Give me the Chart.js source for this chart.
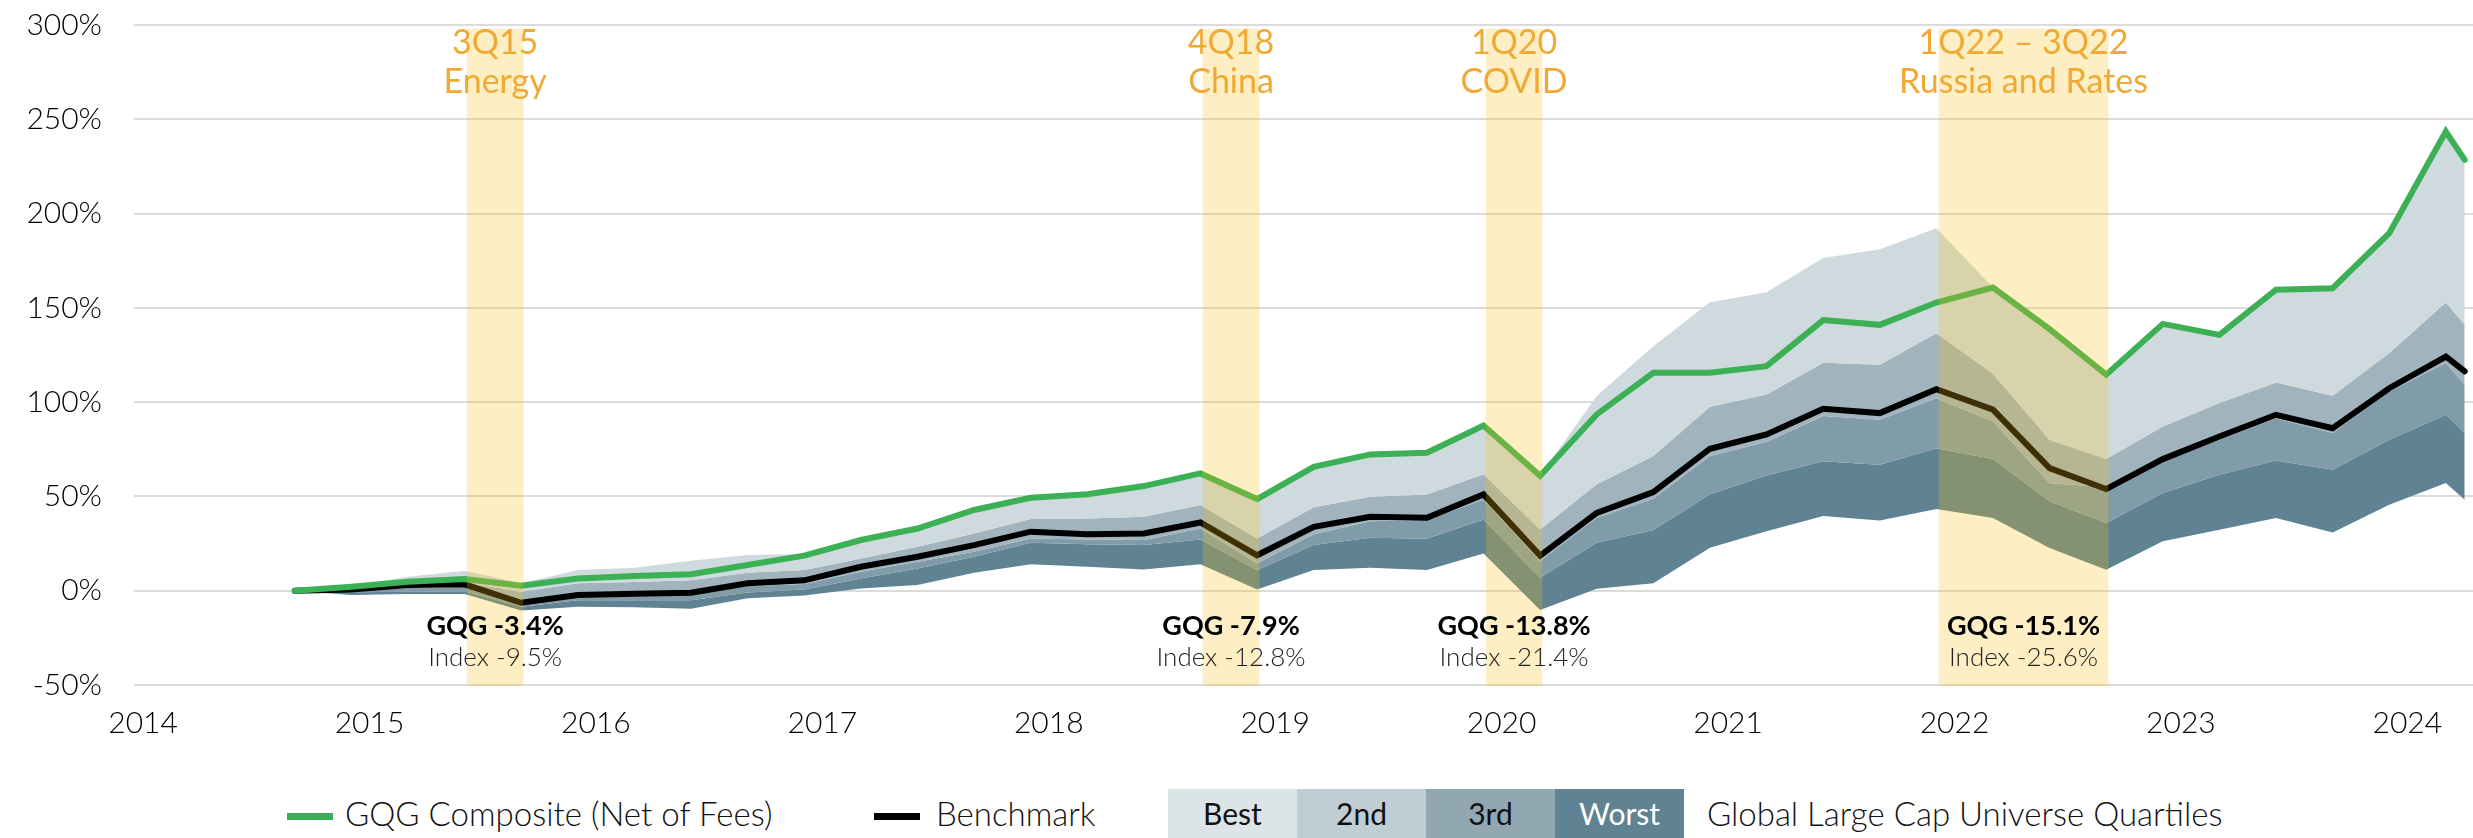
<!DOCTYPE html>
<html>
<head>
<meta charset="utf-8">
<script src="https://cdn.jsdelivr.net/npm/chart.js@4.4.1/dist/chart.umd.min.js"></script>
<style>
body { margin: 0; background: #fff; font-family: Lato, "Open Sans", sans-serif; }
#wrap { position: relative; width: 2473px; height: 838px; overflow: hidden; }
#chartBox { position: absolute; left: 0; top: 0; width: 2473px; height: 760px; }
.lg { position: absolute; top: 789px; height: 49px; line-height: 49px; font-size: 33px; font-weight: 300; color: #111; white-space: nowrap; }
.sw { position: absolute; top: 813px; width: 46px; height: 7px; }
.box { position: absolute; top: 789px; width: 129px; height: 49px; line-height: 49px; text-align: center; font-size: 30px; color: #111; }
</style>
</head>
<body>
<div id="wrap">
  <div id="chartBox"><canvas id="myChart"></canvas></div>

  <div class="sw" style="left:287px;background:#3bb054"></div>
  <div class="lg" style="left:345px">GQG Composite (Net of Fees)</div>
  <div class="sw" style="left:874px;background:#000"></div>
  <div class="lg" style="left:936px">Benchmark</div>
  <div class="box" style="left:1168px;background:#dce4e8">Best</div>
  <div class="box" style="left:1297px;background:#c0cdd4">2nd</div>
  <div class="box" style="left:1426px;background:#91a8b3">3rd</div>
  <div class="box" style="left:1555px;background:#5f8393;color:#fff">Worst</div>
  <div class="lg" style="left:1707px">Global Large Cap Universe Quartiles</div>
</div>

<script>
// month-end dates of each point
var dates = ['2014-09','2014-12','2015-03','2015-06','2015-09','2015-12','2016-03','2016-06','2016-09','2016-12',
             '2017-03','2017-06','2017-09','2017-12','2018-03','2018-06','2018-09','2018-12','2019-03',
             '2019-06','2019-09','2019-12','2020-03','2020-06','2020-09','2020-12','2021-03','2021-06',
             '2021-09','2021-12','2022-03','2022-06','2022-09','2022-12','2023-03','2023-06','2023-09','2023-12','2024-03','2024-04'];

var gqg = [0, 2.1, 4.8, 6.2, 2.6, 6.5, 7.8, 8.7, 13.6, 18.6,
           26.9, 33, 42.8, 49.3, 51.2, 55.5, 62.2, 48.6, 65.7,
           72.3, 73.2, 87.6, 61, 93.5, 115.6, 115.6, 119.1, 143.5,
           141, 152.8, 160.8, 138.7, 114.6, 141.5, 135.7, 159.6, 160.4, 189.6, 243.5, 228.5];

var benchmark = [0, 0.7, 3.0, 3.4, -6.4, -2.3, -1.6, -1.1, 3.9, 5.5,
                 12.7, 18, 24.2, 31.3, 29.9, 30.4, 36.2, 18.8, 33.9,
                 39.2, 38.7, 51.1, 18.6, 41.3, 52.3, 75.3, 82.9, 96.5,
                 94.2, 106.9, 96, 65, 53.9, 69.8, 81.8, 93.3, 86.2, 107.4, 124.2, 116.3];

// universe quartile boundaries (top, 25th, median, 75th, bottom)
var qTop = [0, 2.5, 7.4, 10.6, 3.9, 11, 12.2, 15.9, 18.9, 19.5,
            27, 33, 42.8, 49.3, 51.2, 55.5, 62.2, 48.6, 65.7,
            72.3, 73.2, 87.6, 61, 103.2, 129.7, 153, 158.3, 176.5,
            181.1, 192.2, 160.8, 138.7, 114.6, 141.5, 136.5, 159.6, 160.4, 189.6, 243.5, 228.5];
var q25 = [0, 1.2, 3, 4.5, -0.5, 4, 4.6, 5.5, 9.5, 11,
           17.1, 23.3, 30.4, 38, 38.3, 39.2, 45.4, 27.7, 44.2,
           49.8, 51, 61.7, 32.5, 56.4, 71.4, 97.5, 104, 120.9,
           119.8, 136.6, 115, 80, 69.8, 87.1, 99.5, 110.4, 103.4, 126, 152.8, 141];
var q50 = [0, 0.2, 1.5, 2, -7, -3, -2.5, -2, 2.5, 3.5,
           10, 15.4, 20.7, 27.7, 27.2, 26.9, 33, 14.5, 30,
           36.9, 37.5, 48.4, 15.7, 38.7, 48.8, 71.4, 78.8, 92.6,
           90.6, 102.1, 89.8, 57, 55, 68.6, 80, 91.5, 83.6, 105.7, 120.7, 109.2];
var q75 = [0, -0.8, -0.5, -0.3, -8.5, -5, -5, -5, -1, 0.7,
           6.5, 11.8, 18, 25.4, 24.7, 24.2, 27.2, 11, 24.2,
           28.1, 27.6, 37.8, 6.9, 25.4, 32.2, 51.1, 61.1, 68.7,
           66.8, 75.6, 69.8, 47.4, 35.9, 51.8, 61.5, 69.1, 64.1, 80, 93.3, 83.6];
var qBottom = [0, -2.3, -1.8, -1.8, -10.5, -8.5, -8.8, -9.5, -4, -2.5,
               1.2, 3, 9.5, 14, 12.7, 11.3, 14, 0.7, 11,
               12.2, 11, 19.8, -10.2, 1.1, 3.9, 22.8, 31.6, 39.6,
               37.3, 43.3, 38.5, 22.6, 11.1, 26.2, 32.3, 38.5, 30.9, 45.6, 57.1, 48.2];

var yearLabels = ['2014','2015','2016','2017','2018','2019','2020','2021','2022','2023','2024'];

// drawdown periods
var bandFrom = ['2015-06', '2018-09', '2019-12', '2021-12'];
var bandTo = ['2015-09', '2018-12', '2020-03', '2022-09'];
var bandTitle = ['3Q15', '4Q18', '1Q20', '1Q22 \u2013 3Q22'];
var bandName = ['Energy', 'China', 'COVID', 'Russia and Rates'];
var bandGqg = ['GQG -3.4%', 'GQG -7.9%', 'GQG -13.8%', 'GQG -15.1%'];
var bandIndex = ['Index -9.5%', 'Index -12.8%', 'Index -21.4%', 'Index -25.6%'];

function toYear(d){
    var p = d.split('-');
    return Number(p[0]) + Number(p[1]) / 12;
}
function pts(arr){
    return arr.map(function(v, i){ return {x: toYear(dates[i]), y: v}; });
}

var bands = {
    id: 'bands',
    afterDatasetsDraw: function(chart){
        var ctx = chart.ctx, x = chart.scales.x, y = chart.scales.y;
        ctx.save();
        ctx.fillStyle = 'rgba(247,191,15,0.25)';
        for (var i = 0; i < bandFrom.length; i++) {
            var x0 = x.getPixelForValue(toYear(bandFrom[i]) + 0.01);
            var x1 = x.getPixelForValue(toYear(bandTo[i]) + 0.01);
            var y0 = y.getPixelForValue(298), y1 = y.getPixelForValue(-50.5);
            ctx.fillRect(x0, y0, x1 - x0, y1 - y0);
        }
        ctx.restore();
    },
    afterDraw: function(chart){
        var ctx = chart.ctx, x = chart.scales.x, y = chart.scales.y;
        ctx.save();
        ctx.textAlign = 'center';
        ctx.textBaseline = 'middle';
        for (var i = 0; i < bandFrom.length; i++) {
            var cx = x.getPixelForValue((toYear(bandFrom[i]) + toYear(bandTo[i])) / 2 + 0.01);
            ctx.fillStyle = '#f0a933';
            ctx.font = '400 34px Lato, sans-serif';
            ctx.fillText(bandTitle[i], cx, y.getPixelForValue(290.5));
            ctx.fillText(bandName[i], cx, y.getPixelForValue(269.5));
            ctx.fillStyle = '#000';
            ctx.font = '700 27px Lato, sans-serif';
            ctx.fillText(bandGqg[i], cx, y.getPixelForValue(-19));
            ctx.fillStyle = '#222';
            ctx.font = '300 26px Lato, sans-serif';
            ctx.fillText(bandIndex[i], cx, y.getPixelForValue(-35.5));
        }
        ctx.restore();
    }
};

function area(data, color){
    return { data: pts(data), backgroundColor: color, borderWidth: 0, pointRadius: 0, fill: '+1' };
}

new Chart('myChart', {
    type: 'line',
    data: {
        datasets: [
            { label: 'GQG Composite (Net of Fees)', data: pts(gqg), borderColor: '#3bb054', borderWidth: 6,
              pointRadius: 0, fill: false, borderCapStyle: 'round', borderJoinStyle: 'miter' },
            { label: 'Benchmark', data: pts(benchmark), borderColor: '#000', borderWidth: 6,
              pointRadius: 0, fill: false, borderCapStyle: 'round', borderJoinStyle: 'miter' },
            area(qTop, '#cfdadf'),
            area(q25, '#a1b4be'),
            area(q50, '#7f9ca8'),
            area(q75, '#5f8393'),
            { data: pts(qBottom), borderWidth: 0, pointRadius: 0, fill: false }
        ]
    },
    options: {
        responsive: true,
        maintainAspectRatio: false,
        animation: false,
        layout: { padding: { top: 25, left: 0, right: 0, bottom: 0 } },
        plugins: { legend: { display: false }, tooltip: { enabled: false } },
        scales: {
            x: {
                type: 'linear', min: 2014.04, max: 2024.37,
                grid: { display: false, drawTicks: false },
                border: { display: false },
                afterBuildTicks: function(scale){
                    scale.ticks = yearLabels.map(function(l){ return {value: Number(l) + 0.08}; });
                },
                afterFit: function(scale){ scale.height = 75; scale.paddingLeft = 0; scale.paddingRight = 0; },
                ticks: {
                    padding: 20, color: '#000', maxRotation: 0, autoSkip: false,
                    font: { family: 'Lato', size: 30, weight: '300' },
                    callback: function(v){ return String(Math.round(v)); }
                }
            },
            y: {
                min: -50, max: 300, z: 1,
                grid: { color: 'rgba(0,0,0,0.14)', lineWidth: 2, drawTicks: false },
                border: { display: false },
                afterFit: function(scale){ scale.width = 134; scale.paddingTop = 0; scale.paddingBottom = 0; },
                ticks: {
                    stepSize: 50, padding: 32, color: '#000',
                    font: { family: 'Lato', size: 30, weight: '300' },
                    callback: function(v){ return v + '%'; }
                }
            }
        }
    },
    plugins: [bands]
});
</script>
</body>
</html>
